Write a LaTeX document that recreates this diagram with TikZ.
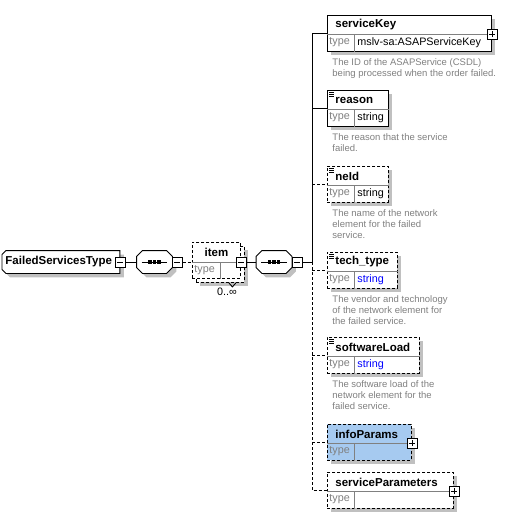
\documentclass[tikz,border=0pt]{standalone}
\usepackage{fontspec}
\setmainfont{Liberation Sans}
\usetikzlibrary{shadows}
\definecolor{shadowgray}{HTML}{C0C0C0}
\definecolor{notegray}{HTML}{808080}
\definecolor{linkblue}{HTML}{0000FF}
\definecolor{complexblue}{HTML}{A6CAF0}
\begin{document}
\begin{tikzpicture}[x=1pt,y=-1pt,line width=0.9pt,
    shade4/.style={drop shadow={shadow xshift=4pt,shadow yshift=-4pt,fill=shadowgray,opacity=1}},
    optional/.style={dash pattern=on 3pt off 2pt},
    elplain/.style={draw,fill=white,rectangle,inner sep=0pt,minimum height=36pt,anchor=north west},
    elbox/.style={elplain,shade4},
    optbox/.style={elbox,optional},
    cplxbox/.style={optbox,fill=complexblue},
    compbox/.style={rectangle,inner sep=0pt,minimum width=35pt,minimum height=22pt},
    elname/.style={font=\fontsize{11.5}{13}\selectfont\bfseries,inner sep=0pt,anchor=west},
    typelab/.style={font=\fontsize{10.8}{12}\selectfont,text=notegray,inner sep=0pt,anchor=west},
    typeval/.style={font=\fontsize{10.8}{12}\selectfont,inner sep=0pt,anchor=west},
    note/.style={font=\fontsize{9.5}{11}\selectfont,text=notegray,align=left,inner sep=0pt,anchor=north west},
    divline/.style={solid,draw=notegray},
    minusbox/.style={draw,solid,fill=white,line width=0.8pt,minimum size=10pt,inner sep=0pt,
        path picture={\draw[line width=0.8pt] ([xshift=2pt]path picture bounding box.west)
            -- ([xshift=-2pt]path picture bounding box.east);}},
    plusbox/.style={minusbox,
        path picture={\draw[line width=0.8pt] ([xshift=2pt]path picture bounding box.west)
            -- ([xshift=-2pt]path picture bounding box.east);
          \draw[line width=0.8pt] ([yshift=2pt]path picture bounding box.south)
            -- ([yshift=-2pt]path picture bounding box.north);}}]
    \useasboundingbox (0,0) rectangle (512,517);
    % Draw the complex type
    \node[compbox,minimum width=117pt,anchor=west] (fst) at (2,262) {};
    \draw[fill=white,shade4] ([xshift=4pt]fst.north west) -- (fst.north east) -- (fst.south east)
        -- ([xshift=4pt]fst.south west) -- ([yshift=4pt]fst.south west) -- ([yshift=-4pt]fst.north west) -- cycle;
    \node[elname] at ([xshift=3pt]fst.west) {FailedServicesType};
    \node[minusbox] (fstm) at (fst.east) {};
    % Draw the sequences
    \node[compbox] (seq1) at (154.5,262) {};
    \node[compbox] (seq2) at (274,262) {};
    \foreach \s in {seq1,seq2} {
        \draw[fill=white,shade4] ([xshift=6pt]\s.north west) -- ([xshift=-6pt]\s.north east)
            -- ([yshift=-6pt]\s.north east) -- ([yshift=6pt]\s.south east) -- ([xshift=-6pt]\s.south east)
            -- ([xshift=6pt]\s.south west) -- ([yshift=6pt]\s.south west) -- ([yshift=-6pt]\s.north west) -- cycle;
        \draw ([xshift=5pt]\s.west) -- ([xshift=-5pt]\s.east);
        \foreach \dx in {-4.5pt,0pt,4.5pt}
            \fill ([xshift=\dx]\s.center) +(-1.6,-1.6) rectangle +(1.6,1.6);
        \node[minusbox] (\s m) at ([xshift=5pt]\s.east) {};
    }
    % Draw the item element (repeated)
    \node[optbox,minimum width=48pt] (itemback) at (196,246) {};
    \node[elplain,optional,minimum width=48pt] (item) at (192,242) {};
    \node[elname,anchor=center] at ([yshift=-10pt]item.north) {item};
    \draw[divline] ([yshift=-20pt]item.north west) -- ([yshift=-20pt]item.north east);
    \draw[divline] ([xshift=28pt,yshift=-20pt]item.north west) -- ([xshift=28pt]item.south west);
    \node[typelab] at ([xshift=2pt,yshift=-28pt]item.north west) {type};
    \node[minusbox] (itemm) at ([yshift=-20pt]item.north east) {};
    \draw[solid] ([xshift=-16pt]itemback.south east) -- ++(3.5,4) -- ++(3.5,-4);
    \node[typeval,anchor=center] at (227,292) {0..∞};
    % Draw child elements
    \foreach \e/\t/\w/\s in {skey/15/164pt/elbox, rsn/90/61pt/elbox, neid/166/61pt/optbox,
        tech/252/70pt/optbox, swl/337/92pt/optbox, info/424/84pt/cplxbox, sprm/472/126pt/optbox}
        \node[\s,minimum width=\w] (\e) at (327,\t) {};
    \foreach \e/\lab in {skey/serviceKey, rsn/reason, neid/neId, tech/tech\_type,
        swl/softwareLoad, info/infoParams, sprm/serviceParameters}
        \node[elname] at ([xshift=8pt,yshift=-10pt]\e.north west) {\lab};
    \foreach \e in {skey,rsn,neid,tech,swl,info,sprm} {
        \draw[divline] ([yshift=-19pt]\e.north west) -- ([yshift=-19pt]\e.north east);
        \draw[divline] ([xshift=27pt,yshift=-19pt]\e.north west) -- ([xshift=27pt]\e.south west);
        \node[typelab] at ([xshift=2pt,yshift=-27.5pt]\e.north west) {type};
    }
    \node[typeval] at ([xshift=30pt,yshift=-27.5pt]skey.north west) {mslv-sa:ASAPServiceKey};
    \foreach \e/\c in {rsn/black, neid/black, tech/linkblue, swl/linkblue}
        \node[typeval,text=\c] at ([xshift=30pt,yshift=-27.5pt]\e.north west) {string};
    % Draw the annotation icons
    \foreach \e in {rsn,neid,tech,swl}
        \foreach \d in {2pt,4pt,6pt}
            \draw[solid,line width=0.8pt] ([xshift=2pt,yshift=-\d]\e.north west) -- ++(5,0);
    \foreach \e in {skey,info,sprm}
        \node[plusbox] at ([yshift=-19pt]\e.north east) {};
    % Draw annotations
    \node[note] at ([xshift=5pt,yshift=-6pt]skey.south west) {The ID of the ASAPService (CSDL)\\being processed when the order failed.};
    \node[note] at ([xshift=5pt,yshift=-6pt]rsn.south west) {The reason that the service\\failed.};
    \node[note] at ([xshift=5pt,yshift=-6pt]neid.south west) {The name of the network\\element for the failed\\service.};
    \node[note] at ([xshift=5pt,yshift=-6pt]tech.south west) {The vendor and technology\\of the network element for\\the failed service.};
    \node[note] at ([xshift=5pt,yshift=-6pt]swl.south west) {The software load of the\\network element for the\\failed service.};
    % Draw connectors
    \coordinate (spine) at (312,262);
    \draw (fstm) -- (seq1.west);
    \draw[optional] (seq1m) -- (seq1m -| item.west);
    \draw (itemm) -- (seq2.west);
    \draw (seq2m) -- (spine);
    \draw (spine) |- (skey.west);
    \draw (spine |- rsn.west) -- (rsn.west);
    \draw[optional] (spine) |- (sprm.west);
    \foreach \e in {neid,tech,swl,info}
        \draw[optional] (spine |- \e.west) -- (\e.west);
\end{tikzpicture}
\end{document}
